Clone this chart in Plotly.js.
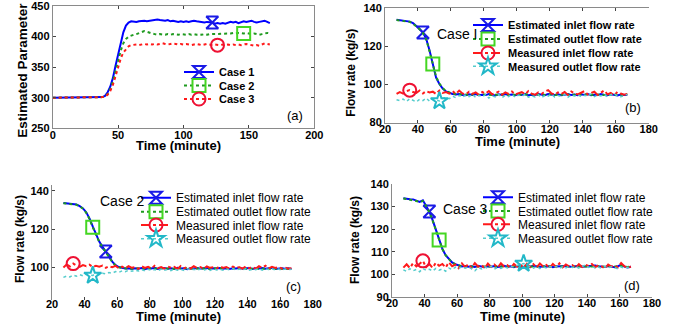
<!DOCTYPE html>
<html>
<head>
<meta charset="utf-8">
<script src="https://cdn.plot.ly/plotly-3.0.1.min.js"></script>
<style>html,body{margin:0;padding:0;background:#fff;}#chart{width:686px;height:329px;}</style>
</head>
<body>
<div id="chart"></div>
<script>
// ---------- DATA ----------
const timeA = [0,2,4,6,8,10,12,14,16,18,20,22,24,26,28,30,32,34,36,38,40,42,44,46,48,50,52,54,56,58,60,62,64,66,68,70,72,74,76,78,80,82,84,86,88,90,92,94,96,98,100,102,104,106,108,110,112,114,116,118,120,122,124,126,128,130,132,134,136,138,140,142,144,146,148,150,152,154,156,158,160,162,164,166];

const case1 = [300,300,300,300,300,300,300,300,300,300,300,300,300,300,300,300,300,300,
  300,301,303,309,318,332,352,372,392,407,418,423,425,424,424,425,426,426,425,426,427,427,428,427,426,426,427,425,426,425,424,425,424,425,424,425,426,425,424,424,423,424,424,423,421,422,421,422,421,422,424,423,424,422,424,425,424,425,426,424,423,424,425,426,424,422];
const case2 = [300,300,300,300,300,300,300,300,300,300,300,300,300,300,300,300,300,300,300,
  301,302,306,314,326,343,361,377,389,396,400,402,403,404,406,408,409,408,406,405,404,403,404,403,403,404,403,404,403,403,404,403,403,404,403,404,403,404,403,404,403,404,404,405,404,405,404,405,404,405,406,405,406,405,405,406,405,404,405,404,403,404,405,406,405];
const case3 = [300,300,300,300,300,300,300,300,300,300,300,300,300,300,300,300,300,300,300,
  301,302,305,311,321,335,350,364,374,380,384,386,387,387,386,387,388,387,388,387,388,387,388,389,388,387,388,389,388,387,388,387,388,387,386,387,388,387,386,387,388,387,386,387,386,386,387,386,387,386,387,386,387,386,387,388,387,386,385,386,385,387,389,388,387];

const timeF = [27,29,31,33,35,37,39,41,43,45,47,49,51,53,55,57,59,61,63,65,67,69,71,73,75,77,79,81,83,85,87,89,91,93,95,97,99,101,103,105,107,109,111,113,115,117,119,121,123,125,127,129,131,133,135,137,139,141,143,145,147,149,151,153,155,157,159,161,163,165,167];

// Case 1 (panel b)
const estInB = [134,133.8,133.5,133.4,133,132.2,130.8,129.2,127.3,124,
  118,110.5,103.5,100.2,97.8,96.3,95.5,95,94.7,95,
  94.5,94.3,94.8,94.5,95,94.3,94.6,94.4,95,94.5,
  94.2,94.8,94.5,95,94.4,94.7,94.3,94.8,94.5,94.9,
  94.3,94.6,94.4,95,94.5,94.3,94.9,94.6,94.4,94.8,
  94.3,94.6,95,94.4,94.7,94.3,94.8,94.5,94.9,94.3,
  94.6,94.4,94.9,94.5,94.3,94.8,94.5,94.2,94.7,94.4,
  94.6];
const estOutB = [133.8,133.6,133.5,133.2,132.9,132,130.6,129,127,123.6,
  117.5,110.8,104,100.5,98,96.5,95.6,95.1,94.9,94.8,
  94.7,94.5,94.6,94.8,94.6,94.4,94.8,94.6,94.7,94.4,
  94.6,94.5,94.8,94.6,94.5,94.9,94.5,94.6,94.7,94.5,
  94.6,94.8,94.5,94.7,94.6,94.4,94.7,94.8,94.5,94.6,
  94.5,94.8,94.7,94.5,94.6,94.5,94.7,94.6,94.8,94.5,
  94.7,94.6,94.7,94.4,94.6,94.7,94.6,94.5,94.6,94.5,
  94.7];
const measInB = [95,96,95.2,96.5,97,96,95.5,96.8,95.3,96.5,
  95.8,96.2,95,96.8,95.5,96,95.2,96.5,95,96.8,
  95.3,94.8,96.2,95,95.8,94.5,96,95.2,96.5,94.8,
  95.5,96.2,94.6,95.8,95,96.3,94.7,95.5,96,94.8,
  96.5,95.2,94.5,95.8,95,96.2,97,95.3,94.6,95.8,
  95,96,94.5,96.3,95.2,94.8,95.6,96.5,94.7,95.5,
  96.2,94.5,95.8,96.8,94.8,95.5,94.3,96,95.2,94.6,
  95];
const measOutB = [92,91.5,92.3,91,92.5,91.8,90.8,92.2,91.5,92.8,
  91.2,92.5,91.8,91.3,92.6,93.2,92.5,93.8,93,94.2,
  93.3,94.5,93.6,94.8,93.2,94.3,93.5,94.6,92.8,94,
  93.4,94.7,93.1,94.2,93.6,94.8,93.2,94.4,93.7,94.9,
  93.3,94.1,93.5,94.6,93,94.3,93.8,94.9,93.4,94.2,
  93.7,94.8,93.3,94.5,93.9,94.7,93.5,94.3,93.8,95,
  93.6,94.4,93.9,94.8,93.4,94.6,95.2,94,93.5,94.3,
  94.8];

// Case 2 (panel c)
const estInC = [133.6,133.4,133.2,133.3,132.8,132,130.8,128.8,125.6,121.4,
  117,113.5,110.8,108.3,105.5,103,101.2,100.2,99.8,99.4,
  99.6,99.2,99.5,99.3,99.7,99.1,99.5,99.4,99.8,99.2,
  99.5,99.7,99.3,99.6,99.2,99.8,99.4,99.5,99.1,99.6,
  99.4,99.7,99.3,99.5,99.8,99.2,99.6,99.4,99.7,99.3,
  99.5,99.2,99.6,99.4,99.8,99.3,99.5,99.7,99.2,99.6,
  99.4,99.7,99.3,99.5,99.8,99.2,99.4,99.6,99.3,99.5,
  99.2];
const estOutC = [133.5,133.3,133.2,133.1,132.7,131.9,130.6,128.5,125.3,121,
  116.8,113.3,110.6,108,105.2,102.8,101,100.1,99.7,99.5,
  99.4,99.3,99.6,99.4,99.5,99.3,99.6,99.5,99.6,99.3,
  99.6,99.5,99.4,99.5,99.3,99.6,99.5,99.4,99.3,99.5,
  99.5,99.6,99.4,99.4,99.6,99.3,99.5,99.5,99.6,99.4,
  99.4,99.3,99.5,99.5,99.6,99.4,99.4,99.6,99.3,99.5,
  99.5,99.6,99.4,99.4,99.6,99.3,99.5,99.5,99.4,99.4,
  99.3];
const measInC = [100,101.5,100.5,102,101,100.3,101.2,100.6,101.4,100.2,
  100.9,100.4,101,99.8,100.6,100.1,100.8,99.6,100.4,99.5,
  100.7,99.8,100.2,99.3,100.6,99.7,100.3,99.5,100.9,99.6,
  100.2,99.4,100.5,99.8,100.3,99.2,100.7,99.6,100.1,99.4,
  100.6,99.7,100.2,99.3,100.5,99.8,100.1,99.4,100.6,99.7,
  100.2,99.3,100.4,99.8,100.1,99.4,100.5,99.6,100.2,99.3,
  100.6,99.8,100.9,99.5,100.3,99.7,100.2,99.4,100,99.3,
  99.6];
const measOutC = [94.8,95.5,95,96,95.4,96.2,95.6,96.5,96,95.8,
  96.8,96.3,97,96.6,97.3,97,97.8,97.4,98.2,97.8,
  98.5,98,98.6,98.1,98.8,98.3,99,98.4,98.9,98.2,
  99.1,98.5,98.9,98.3,99.2,98.6,99,98.4,99.3,98.7,
  99,98.5,99.2,98.6,99.1,98.4,99.3,98.7,99,98.5,
  99.2,98.8,99.4,98.6,99.1,98.7,99.3,98.5,99,98.8,
  99.4,98.6,99.2,98.9,99.3,98.7,99.1,98.6,99.2,98.8,
  99];

// Case 3 (panel d)
const estInD = [133.7,133.4,133.3,133.2,132.6,132.1,132.8,130.5,127.8,124,
  119.5,115.3,111.3,108.5,107,105.3,104.5,103.9,103.5,103.7,
  103.4,103.6,103.3,103.8,103.5,103.2,103.6,103.4,103.7,103.3,
  103.5,103.8,103.4,103.6,103.2,103.7,103.5,103.3,103.6,103.4,
  103.8,103.5,103.3,103.6,103.4,103.7,103.2,103.5,103.6,103.4,
  103.7,103.5,103.3,103.6,103.8,103.4,103.5,103.7,103.6,103.9,
  103.6,103.4,103.3,103.7,103.5,103.2,103.6,104.2,103.5,103.1,
  103.4];
const estOutD = [133.6,133.3,133.2,133,132.5,132,132.5,130.3,127.5,123.8,
  119.3,115.2,111.2,108.5,106.8,105.2,104.4,103.9,103.6,103.5,
  103.5,103.4,103.5,103.6,103.4,103.5,103.5,103.4,103.6,103.5,
  103.4,103.6,103.5,103.5,103.3,103.6,103.5,103.4,103.5,103.5,
  103.6,103.4,103.5,103.5,103.4,103.6,103.3,103.5,103.5,103.4,
  103.6,103.5,103.4,103.5,103.6,103.5,103.5,103.6,103.5,103.7,
  103.5,103.5,103.4,103.6,103.5,103.3,103.5,103.8,103.5,103.3,
  103.4];
const measInD = [103,104.5,102.8,105,103.5,104.8,106,103.2,104.6,102.9,
  105.2,103.8,104.6,103,105.4,103.6,104.3,102.8,104.9,103.2,
  104.5,102.9,105,103.4,104.2,102.7,104.8,103.3,104.4,103,
  104.9,103.5,104.1,102.8,104.6,103.4,104.3,102.9,104.7,103.2,
  104.5,103,104.8,103.5,104.2,102.8,104.6,103.3,104.9,103.1,
  104.4,103.6,104.1,102.9,104.5,103.3,104.2,103.7,104.6,103.2,
  104,103.5,102.6,104.3,103.4,104,103.1,105,103.6,102.8,
  103.5];
const measOutD = [102,101.3,102.5,101.6,102.2,101.2,102.6,101.8,102.3,101.5,
  102.7,101.9,102.4,101.4,102.8,102.1,103.2,102.6,103.5,102.8,
  103.3,102.5,101.6,103,102.4,103.4,102.7,103.6,102.3,103.1,
  102.6,103.4,102.9,103.6,103.2,104,104.5,104.8,103.9,103.4,
  102.8,103.5,102.6,103.3,102.9,103.6,103,103.5,102.7,103.4,
  102.9,103.6,103.1,103.5,102.8,103.4,104.2,103.1,103.6,102.9,
  103.3,102.7,103.5,102.9,103.4,103,102.5,103.3,102.7,103.2,
  102.8];

// marker positions (time of the single marker drawn on each curve)
const markerTimesA = [122, 146, 126];
const markerTimesB = [43, 49, 35, 53];
const markerTimesC = [53, 45, 33, 45];
const markerTimesD = [43, 49, 39, 101];

const legendA = ['Case 1', 'Case 2', 'Case 3'];
const legendF = ['Estimated inlet flow rate', 'Estimated outlet flow rate', 'Measured inlet flow rate', 'Measured outlet flow rate'];
const caseLabels = ['Case I', 'Case 2', 'Case 3'];
const panelLabels = ['(a)', '(b)', '(c)', '(d)'];

// ---------- STYLE ----------
const W = 686, H = 329;
const FONT = 'Liberation Sans, Arial, sans-serif';
const styleA = [
  {color:'#0000ff', dash:'solid', width:2, symbol:'hourglass-open', mcolor:'#1a1ae6', size:12},
  {color:'#1f9a1f', dash:'dot', width:2, symbol:'square-open', mcolor:'#44d622', size:13},
  {color:'#ff1a1a', dash:'dot', width:2, symbol:'circle-open', mcolor:'#ee1133', size:13}
];
const styleF = [
  {color:'#0000ff', dash:'solid', width:2, symbol:'hourglass-open', mcolor:'#1a1ae6', size:12},
  {color:'#1f9a1f', dash:'dot', width:2, symbol:'square-open', mcolor:'#44d622', size:13},
  {color:'#ff1a1a', dash:'dashdot', width:2, symbol:'circle-open', mcolor:'#ee1133', size:13},
  {color:'#55cccc', dash:'dot', width:1.5, symbol:'star-open', mcolor:'#22b8c8', size:13}
];

const traces = [];
const layout = {
  width: W, height: H,
  margin: {l:0, r:0, t:0, b:0},
  paper_bgcolor: '#fff', plot_bgcolor: 'rgba(0,0,0,0)',
  showlegend: true,
  annotations: []
};
let legendCount = 0;
function nextLegend(px, py, font) {
  legendCount++;
  const key = legendCount === 1 ? 'legend' : 'legend' + legendCount;
  layout[key] = {
    x: px / W, y: 1 - py / H, xanchor: 'left', yanchor: 'middle',
    xref: 'paper', yref: 'paper',
    bgcolor: 'rgba(0,0,0,0)', borderwidth: 0, itemwidth: 30,
    font: font
  };
  return key;
}
function addSeries(xs, ys, st, xa, ya, markerT, name, legPos, legFont) {
  traces.push({x: xs, y: ys, xaxis: xa, yaxis: ya, type: 'scatter', mode: 'lines',
    line: {color: st.color, dash: st.dash, width: st.width}, showlegend: false, hoverinfo: 'skip'});
  const idx = xs.indexOf(markerT);
  const key = nextLegend(legPos[0], legPos[1], legFont);
  traces.push({x: [xs[idx]], y: [ys[idx]], xaxis: xa, yaxis: ya, type: 'scatter', mode: 'lines+markers',
    name: name, legend: key, showlegend: true,
    line: {color: st.color, dash: st.dash, width: st.width},
    marker: {symbol: st.symbol, size: st.size, color: st.mcolor, line: {color: st.mcolor, width: 2}}});
}

function ax(domainPx, range, dtick, anchor, isY, showline, mirror) {
  const d = isY ? [1 - domainPx[1] / H, 1 - domainPx[0] / H] : [domainPx[0] / W, domainPx[1] / W];
  return {
    domain: d, range: range, dtick: dtick, tick0: 0, anchor: anchor,
    ticks: 'inside', ticklen: 3, tickwidth: 1, tickcolor: '#444',
    showline: showline, linecolor: '#8a8a8a', linewidth: 1, mirror: mirror,
    showgrid: false, zeroline: false, fixedrange: true,
    ticklabeloverflow: 'allow',
    ticklabelstandoff: isY ? 0 : -4,
    tickfont: {family: FONT, size: 11, color: '#000', weight: 'bold'}
  };
}
layout.xaxis  = ax([52.7, 314.3], [0, 200], 50, 'y', false, true, 'ticks');
layout.yaxis  = ax([6, 128.3], [250, 450], 50, 'x', true, true, 'ticks');
layout.xaxis2 = ax([385, 648.7], [20, 180], 20, 'y2', false, true, 'ticks');
layout.yaxis2 = ax([8.3, 122.5], [80, 140], 20, 'x2', true, true, false);
layout.xaxis3 = ax([52, 312.7], [20, 180], 20, 'y3', false, false, false);
layout.yaxis3 = ax([185, 300], [83, 143], 20, 'x3', true, true, false);
layout.xaxis4 = ax([392, 652], [20, 180], 20, 'y4', false, true, false);
layout.yaxis4 = ax([184, 297], [90, 140], 10, 'x4', true, true, false);

const boldLeg = {family: FONT, size: 11, color: '#000', weight: 'bold'};
const normLeg = {family: FONT, size: 12, color: '#000'};

// panel a
const seriesA = [case1, case2, case3];
const legRowsA = [72, 85.5, 99];
seriesA.forEach((ys, k) => addSeries(timeA, ys, styleA[k], 'x', 'y', markerTimesA[k], legendA[k], [179, legRowsA[k]], boldLeg));
// panel b
const seriesB = [estInB, estOutB, measInB, measOutB];
const legRowsB = [25, 39, 53, 66.3];
seriesB.forEach((ys, k) => addSeries(timeF, ys, styleF[k], 'x2', 'y2', markerTimesB[k], legendF[k], [468, legRowsB[k]], boldLeg));
// panel c
const seriesC = [estInC, estOutC, measInC, measOutC];
const legRowsC = [197.7, 211.7, 225, 238.7];
seriesC.forEach((ys, k) => addSeries(timeF, ys, styleF[k], 'x3', 'y3', markerTimesC[k], legendF[k], [136, legRowsC[k]], normLeg));
// panel d
const seriesD = [estInD, estOutD, measInD, measOutD];
const legRowsD = [197.3, 211, 224.3, 238.3];
seriesD.forEach((ys, k) => addSeries(timeF, ys, styleF[k], 'x4', 'y4', markerTimesD[k], legendF[k], [478, legRowsD[k]], normLeg));

// annotations (text placed in paper pixels)
function ann(text, px, py, size, bold, angle) {
  layout.annotations.push({text: text, x: px / W, y: 1 - py / H, xref: 'paper', yref: 'paper',
    xanchor: 'center', yanchor: 'middle', showarrow: false, textangle: angle || 0,
    font: {family: FONT, size: size, color: '#000', weight: bold ? 'bold' : 'normal'}});
}
ann('Estimated Parameter', 22.7, 70, 13.5, true, -90);
ann('Time (minute)', 178, 145.5, 13, true);
ann(panelLabels[0], 295, 115, 13, false);

ann('Flow rate (kg/s)', 350.7, 73, 12, true, -90);
ann('Time (minute)', 517, 141, 13, true);
ann(panelLabels[1], 633, 107.7, 13, false);
ann(caseLabels[0], 456.7, 34, 14, false);

ann('Flow rate (kg/s)', 20, 239, 12, true, -90);
ann('Time (minute)', 178, 316.5, 13, true);
ann(panelLabels[2], 293, 286, 13, false);
ann(caseLabels[1], 122, 200.7, 14, false);

ann('Flow rate (kg/s)', 355, 240, 12, true, -90);
ann('Time (minute)', 522.5, 316.5, 13, true);
ann(panelLabels[3], 632, 285.7, 13, false);
ann(caseLabels[2], 466, 209, 14, false);

Plotly.newPlot('chart', traces, layout, {displayModeBar: false, staticPlot: true});
</script>
</body>
</html>
